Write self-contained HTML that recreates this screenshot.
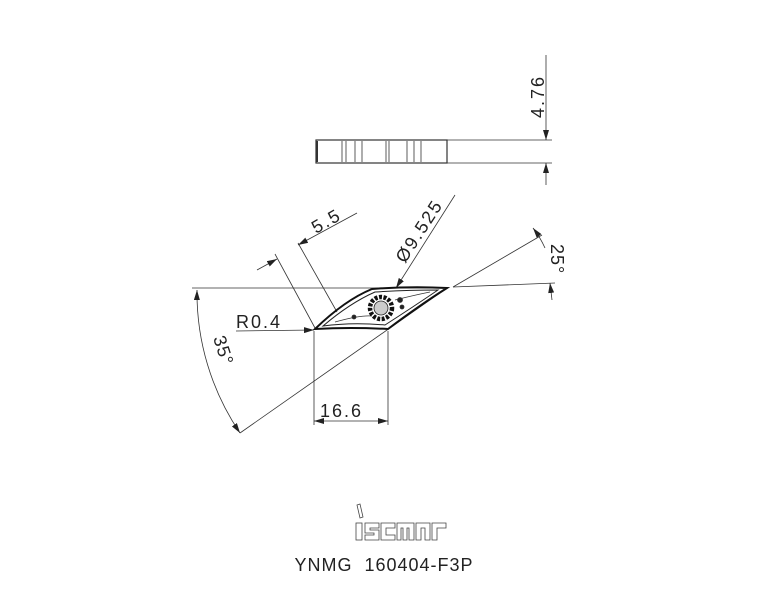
<!DOCTYPE html>
<html><head><style>
html,body{margin:0;padding:0;background:#fff;}
svg{display:block;}
text{font-family:"Liberation Sans",sans-serif;fill:#222;}
</style></head><body>
<svg width="768" height="614" viewBox="0 0 768 614" xmlns="http://www.w3.org/2000/svg">
<defs>
<marker id="a" viewBox="0 0 10 6" refX="10" refY="3" markerWidth="10" markerHeight="6" orient="auto-start-reverse" markerUnits="userSpaceOnUse"><path d="M0,0 L10,3 L0,6 z" fill="#222"/></marker>
</defs>
<g stroke="#333" stroke-width="0.8" fill="none">
<rect x="316" y="140" width="131" height="23" stroke-width="1.2"/>
<line x1="317" y1="141" x2="317" y2="162" stroke-width="2"/>
<line x1="342" y1="141" x2="342" y2="162"/><line x1="346" y1="141" x2="346" y2="162"/>
<line x1="355" y1="141" x2="355" y2="162"/><line x1="362" y1="141" x2="362" y2="162"/>
<line x1="386" y1="141" x2="386" y2="162"/><line x1="389" y1="141" x2="389" y2="162"/>
<line x1="407" y1="141" x2="407" y2="162"/><line x1="414" y1="141" x2="414" y2="162"/><line x1="421" y1="141" x2="421" y2="162"/>
<line x1="447" y1="140" x2="552" y2="140"/>
<line x1="447" y1="163" x2="552" y2="163"/>
<line x1="546" y1="55" x2="546" y2="140" marker-end="url(#a)"/>
<line x1="546" y1="185" x2="546" y2="163" marker-end="url(#a)"/>
<line x1="192" y1="288" x2="447" y2="288"/>
<line x1="447" y1="288" x2="240" y2="433"/>
<path d="M197,290 A250,250 0 0 0 240,433" marker-start="url(#a)" marker-end="url(#a)"/>
<line x1="453" y1="287" x2="542" y2="235"/>
<line x1="453" y1="287" x2="555" y2="283"/>
<path d="M533,228 A100,100 0 0 1 545,248" marker-start="url(#a)"/>
<line x1="550" y1="283" x2="552" y2="300" marker-start="url(#a)"/>
<line x1="236" y1="331" x2="314" y2="330" marker-end="url(#a)"/>
<line x1="314" y1="331" x2="314" y2="425"/>
<line x1="388" y1="331" x2="388" y2="425"/>
<line x1="314" y1="421" x2="388" y2="421" marker-start="url(#a)" marker-end="url(#a)"/>
<line x1="275" y1="254" x2="315" y2="328"/>
<line x1="298" y1="243" x2="337" y2="312"/>
<line x1="257" y1="270" x2="277" y2="259" marker-end="url(#a)"/>
<line x1="357" y1="213" x2="298" y2="245" marker-end="url(#a)"/>
<line x1="455" y1="195" x2="396" y2="288" marker-end="url(#a)"/>
<path d="M315,329 Q345,300 372,289 Q410,286 447,288 Q420,305 388,329 Q350,327 315,329 Z" stroke="#111" stroke-width="2"/>
<path d="M323,326 Q350,303 375,292 Q408,290 438,290 Q413,307 385,325 Q352,322 323,326 Z" stroke="#222" stroke-width="1"/>
<path d="M335,322 Q360,315 372,316 M395,300 Q415,295 430,292" stroke="#333" stroke-width="0.8"/>
<circle cx="381" cy="308" r="11" stroke="#111" stroke-width="4.5" stroke-dasharray="3 1.5"/>
<circle cx="381" cy="308" r="7" fill="#ccc" stroke="#222"/>
<circle cx="400" cy="300" r="2.5" fill="#222"/><circle cx="402" cy="307" r="2" fill="#222"/>
<circle cx="354" cy="317" r="2" fill="#222"/>
</g>
<text transform="translate(544,118) rotate(-90)" font-size="18" letter-spacing="2">4.76</text>
<text transform="translate(316,234) rotate(-30)" font-size="18" letter-spacing="2">5.5</text>
<text transform="translate(405,264) rotate(-57)" font-size="18" letter-spacing="2">Ø9.525</text>
<text transform="translate(551,244) rotate(90)" font-size="18" letter-spacing="1">25°</text>
<text transform="translate(213,338) rotate(72)" font-size="18" letter-spacing="1">35°</text>
<text x="236" y="328" font-size="18" letter-spacing="2">R0.4</text>
<text x="320" y="417" font-size="18" letter-spacing="2">16.6</text>
<g stroke="#444" stroke-width="0.8" fill="none">
<path d="M357,505 L360,504 L363,517 L360,518 Z"/>
<rect x="356" y="523" width="6" height="17"/>
<path d="M365,523 h14 v5 h-9 v2 h9 v10 h-14 v-5 h9 v-2 h-9 z"/>
<path d="M381,523 h14 v5 h-9 v7 h9 v5 h-14 z"/>
<path d="M397,523 h17 v17 h-5 v-12 h-2 v12 h-4 v-12 h-2 v12 h-4 z"/>
<path d="M416,523 h14 v17 h-5 v-12 h-4 v12 h-5 z"/>
<path d="M432,523 h14 v5 h-9 v12 h-5 z"/>
</g>
<text x="384" y="571" font-size="18" text-anchor="middle" letter-spacing="1" xml:space="preserve">YNMG  160404-F3P</text>
</svg>
</body></html>
